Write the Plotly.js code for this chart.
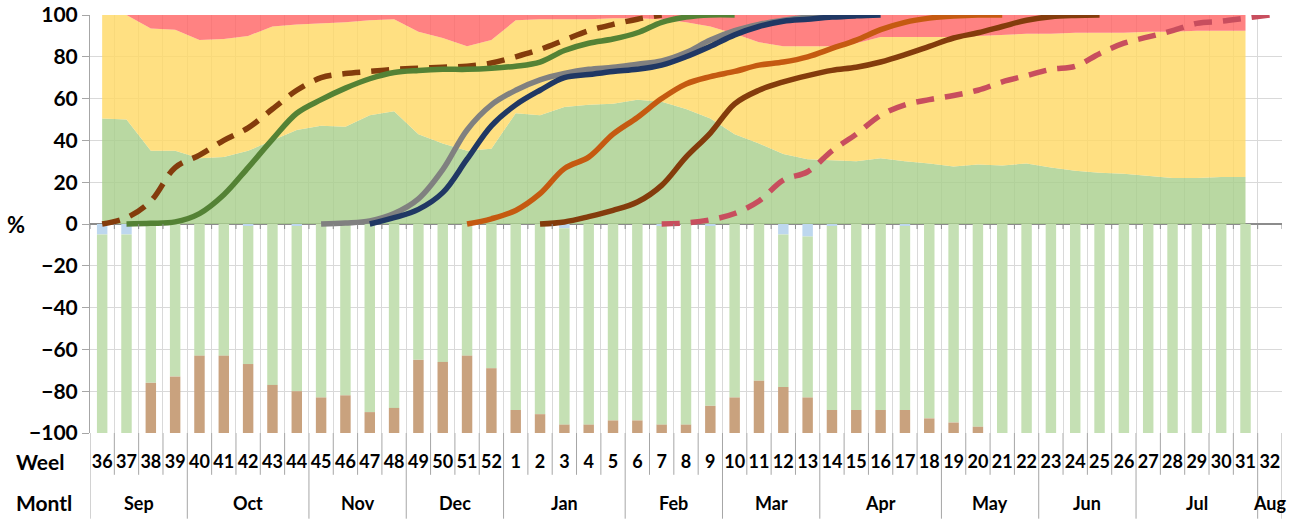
<!DOCTYPE html>
<html>
<head>
<meta charset="utf-8">
<script src="https://cdn.plot.ly/plotly-3.0.1.min.js"></script>
<style>html,body{margin:0;padding:0;background:#fff;}#chart{width:1302px;height:519px;}</style>
</head>
<body>
<div id="chart"></div>
<script>
// ---- categories ----
const weeks = ['36','37','38','39','40','41','42','43','44','45','46','47','48','49','50','51','52',
  '1','2','3','4','5','6','7','8','9','10','11','12','13','14','15','16','17','18','19','20',
  '21','22','23','24','25','26','27','28','29','30','31','32'];
const months = ['Sep','Sep','Sep','Sep','Oct','Oct','Oct','Oct','Oct','Nov','Nov','Nov','Nov',
  'Dec','Dec','Dec','Dec','Jan','Jan','Jan','Jan','Jan','Feb','Feb','Feb','Feb',
  'Mar','Mar','Mar','Mar','Apr','Apr','Apr','Apr','Apr','May','May','May','May',
  'Jun','Jun','Jun','Jun','Jul','Jul','Jul','Jul','Jul','Aug'];
const rowLabels = ['Weel', 'Montl'];

// ---- stacked area shares (%), weeks 36..31 ----
const areaGreen = [50.5,50,35,35,31.5,32,35,40,45,47,46.5,52,54,43,38.5,35,36,
  53,52,56,57,57.5,59.5,58.5,55,50.5,43,38.5,33.5,31,30.5,30,31.5,30,29,27.5,28.5,28,29,27,25.5,24.5,24,23,22,22,22.5,22.5];
const areaYellow = [49.5,50,58.5,58,56.5,56.5,55,54.5,50.5,49,50,45.5,44,49,50.5,50,52,
  44.5,46,42,41,41,39,39.5,41.5,44,48,48.5,51.5,54,54.5,56.5,58,59.5,60.5,62,61.5,62.5,62,64,66,67,67.5,69,70,70.5,70,70];
const areaRed = [0,0,6.5,7,12,11.5,10,5.5,4.5,4,3.5,2.5,2,8,11,15,12,
  2.5,2,2,2,1.5,1.5,2,3.5,5.5,9,13,15,15,15,13.5,10.5,10.5,10.5,10.5,10,9.5,9,9,8.5,8.5,8.5,8,8,7.5,7.5,7.5];

// ---- negative bars (%), weeks 36..31 ----
const barBlue = [-5,-5,0,0,0,0,-1,0,-1,0,0,0,0,0,0,0,0,
  0,0,-2,0,0,0,-1,0,-1,0,0,-5,-6,-1,0,0,-1,0,0,0,0,0,0,0,0,0,0,0,0,0,0];
const barGreen = [-95,-95,-76,-73,-63,-63,-66,-77,-79,-83,-82,-90,-88,-65,-66,-63,-69,
  -89,-91,-94,-96,-94,-94,-95,-96,-86,-83,-75,-73,-77,-88,-89,-89,-88,-93,-95,-97,
  -100,-100,-100,-100,-100,-100,-100,-100,-100,-100,-100];
const barBrown = [0,0,-24,-27,-37,-37,-33,-23,-20,-17,-18,-10,-12,-35,-34,-37,-31,
  -11,-9,-4,-4,-6,-6,-4,-4,-13,-17,-25,-22,-17,-11,-11,-11,-11,-7,-5,-3,0,0,0,0,0,0,0,0,0,0,0];

// ---- cumulative curves (%), one value per week 36..32 ----
const N = null;
const curveDashBrown = [0,3,11,27,33,40,46,55,64,70,72,73,74,74.5,75,75.5,77,
  80,83.5,88,92.5,95.5,98,100,N,N,N,N,N,N,N,N,N,N,N,N,N,N,N,N,N,N,N,N,N,N,N,N,N];
const curveGreen = [N,0,0.3,1,5,14,27,40.5,53,59.5,65,69.5,72.5,73.5,74,74,74.5,
  75.5,77.5,83,86.5,88.5,91.5,96.5,99,100,100,N,N,N,N,N,N,N,N,N,N,N,N,N,N,N,N,N,N,N,N,N,N];
const curveGray = [N,N,N,N,N,N,N,N,N,0,0.5,1.5,5,12,26,45,57,
  64,69,72,74,75,76.5,78,82,88,92.5,95.5,97.5,99,100,100,N,N,N,N,N,N,N,N,N,N,N,N,N,N,N,N,N];
const curveBlue = [N,N,N,N,N,N,N,N,N,N,N,0,3,7,15,31,47,
  57,64,70,71.5,73,74,76,80,85,90.5,94.5,97,98,99,99.6,100,N,N,N,N,N,N,N,N,N,N,N,N,N,N,N,N];
const curveOrange = [N,N,N,N,N,N,N,N,N,N,N,N,N,N,N,0,2.5,
  6.5,14.5,26.5,32,43,51,60,67,70.5,73,76,77.5,80,84,88,93,96.5,98.5,99.5,100,100,N,N,N,N,N,N,N,N,N,N,N];
const curveDarkBrown = [N,N,N,N,N,N,N,N,N,N,N,N,N,N,N,N,N,
  N,0,1,3.5,6.5,10.5,18.5,32,43.5,57.5,64,68,71,73.5,75,77.5,81,85,89,91.5,94.5,97.5,99.2,99.8,100,N,N,N,N,N,N,N];
const curveDashPink = [N,N,N,N,N,N,N,N,N,N,N,N,N,N,N,N,N,
  N,N,N,N,N,N,0,0.5,2,5,11,21,25,35,43,52,57,59.5,61.5,64,68,71,74,75.5,81.5,86.5,89.5,92.5,96,97,98.5,100];

// ---- build traces ----
const nA = areaGreen.length;
const xArea = weeks.slice(0, nA);

function area(name, y, color) {
  return {type:'scatter', mode:'lines', x:xArea, y:y, name:name, stackgroup:'share',
    line:{width:0}, fillcolor:color, hoverinfo:'skip'};
}
function bar(name, y, color) {
  return {type:'bar', x:xArea, y:y, name:name, marker:{color:color, line:{width:0}}};
}
function curve(name, y, color, dash) {
  return {type:'scatter', mode:'lines', x:weeks, y:y, name:name,
    line:{color:color, width:5.5, shape:'spline', smoothing:1, dash:dash || 'solid'}};
}

const data = [
  area('green', areaGreen, 'rgba(169,208,142,0.82)'),
  area('yellow', areaYellow, 'rgba(255,217,102,0.82)'),
  area('red', areaRed, 'rgba(255,102,102,0.82)'),
  bar('blue', barBlue, '#BDD7EE'),
  bar('green bar', barGreen, '#C5E0B4'),
  bar('brown bar', barBrown, '#C9A27E'),
  curve('c1', curveDashBrown, '#843C0C', '18px,11px'),
  curve('c2', curveGreen, '#548235'),
  curve('c3', curveGray, '#808080'),
  curve('c4', curveBlue, '#203864'),
  curve('c5', curveOrange, '#C55A11'),
  curve('c6', curveDarkBrown, '#843C0C'),
  curve('c7', curveDashPink, '#C84E5E', '18px,11px')
];

// ---- category-axis decorations (week separators, month groups) ----
const FONT = 'Lato, "Liberation Sans", sans-serif';
const SEP = '#A6A6A6';
const shapes = [];
const annotations = [];
for (let k = 0; k <= weeks.length; k++) {
  const b = k - 0.5;
  const monthEdge = (k === 0 || k === weeks.length || months[k] !== months[k - 1]);
  shapes.push({type:'line', xref:'x', yref:'paper', x0:b, x1:b, y0:0, y1: monthEdge ? -0.205 : -0.1,
    line:{color:SEP, width:1}});
  shapes.push({type:'line', xref:'x', yref:'y', x0:b, x1:b, y0:0, y1:-2.4,
    line:{color:'#8C8C8C', width:1}});
}
let start = 0;
for (let k = 1; k <= months.length; k++) {
  if (k === months.length || months[k] !== months[start]) {
    annotations.push({text:months[start], xref:'x', yref:'paper', x:(start + k - 1) / 2, y:-0.167,
      showarrow:false, xanchor:'center', yanchor:'middle',
      font:{family:FONT, size:18, weight:'bold', color:'#000'}});
    start = k;
  }
}
annotations.push({text:'%', xref:'paper', yref:'y', x:-0.062, y:0, showarrow:false,
  xanchor:'center', yanchor:'middle', font:{family:FONT, size:22, weight:'bold', color:'#000'}});
annotations.push({text:rowLabels[0], xref:'paper', yref:'paper', x:-0.064, y:-0.069, showarrow:false,
  xanchor:'left', yanchor:'middle', font:{family:FONT, size:21, weight:'bold', color:'#000'}});
annotations.push({text:rowLabels[1], xref:'paper', yref:'paper', x:-0.064, y:-0.167, showarrow:false,
  xanchor:'left', yanchor:'middle', font:{family:FONT, size:21, weight:'bold', color:'#000'}});

const layout = {
  width:1302, height:519,
  margin:{l:90, r:20, t:15, b:86},
  paper_bgcolor:'#fff', plot_bgcolor:'#fff',
  showlegend:false,
  barmode:'relative', bargap:0.57,
  font:{family:FONT, color:'#000'},
  xaxis:{
    type:'category', categoryorder:'array', categoryarray:weeks, range:[-0.5, 48.5],
    tickson:'boundaries', ticks:'', ticklabelstandoff:16,
    showgrid:true, gridcolor:'#D9D9D9', gridwidth:1,
    showline:false, zeroline:false,
    tickangle:0,
    tickfont:{family:FONT, size:18, weight:'bold', color:'#000'}
  },
  yaxis:{
    range:[-100, 100], dtick:20, tick0:0,
    showgrid:true, gridcolor:'#D9D9D9', gridwidth:1,
    zeroline:true, zerolinecolor:'#8C8C8C', zerolinewidth:1.5,
    ticks:'outside', ticklen:7, tickcolor:'#A6A6A6',
    showline:true, linecolor:'#A6A6A6',
    tickfont:{family:FONT, size:21, weight:'bold', color:'#000'}
  },
  shapes:shapes,
  annotations:annotations
};

Plotly.newPlot('chart', data, layout, {displayModeBar:false, staticPlot:true});
</script>
</body>
</html>
